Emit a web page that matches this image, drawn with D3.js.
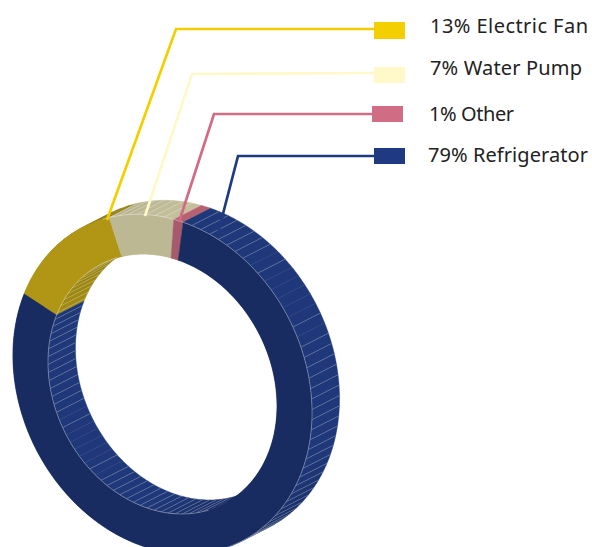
<!DOCTYPE html>
<html>
<head>
<meta charset="utf-8">
<style>
html,body{margin:0;padding:0;background:#fff;overflow:hidden}
svg{display:block}
text{font-family:"Noto Sans",sans-serif;font-size:20px;fill:#222}
</style>
<script src="https://cdnjs.cloudflare.com/ajax/libs/d3/7.8.5/d3.min.js"></script>
</head>
<body>
<svg id="chart" width="592" height="547"></svg>
<script>
// Appliance share of household energy use
const categories = ["Electric Fan", "Water Pump", "Other", "Refrigerator"];
const shares = [13, 7, 1, 79];
const legendColors = ["#f4cf00", "#fff8c8", "#d06c84", "#1f3a80"];
const faceColors = ["#b09614", "#bcb894", "#a65a6c", "#182c62"];
const wallBright = ["#a58e14", "#c8c4a0", "#b9606f", "#1e3879"];
const wallDim = ["#8f7a10", "#b0ac88", "#a65a6c", "#182c62"];

// Legend layout: row swatch corner, text origin, text width and leader elbow
const swatchX = [374, 374, 372, 374];
const swatchY = [22, 67, 106, 148];
const swatchH = [17, 16, 16, 16];
const textX = [430, 430, 429, 428];
const textY = [33, 75, 120.5, 162];
const textW = [158, 152, 85, 160];
const leaders = [
  [[107, 220], [176, 29], [374, 29]],
  [[145, 216], [192, 74], [374, 73]],
  [[179, 222], [214, 114], [372, 114]],
  [[218, 233], [238, 156], [374, 156]]
];

// Ring geometry: an oblique circle, extruded along the minor axis
const center = [162.5, 384];
const axisA = [0.4466 * 134.7, 0.8947 * 134.7];
const axisB = [0.8947 * 108.9, -0.4466 * 108.9];
const extrude = [27.5, -14];
const rInner = 1, rOuter = 1.306;
const startDeg = -36;
const rad = Math.PI / 180;

const project = (deg, r, d) => {
  const c = Math.cos(deg * rad), s = Math.sin(deg * rad);
  return [
    center[0] + r * (-c * axisA[0] + s * axisB[0]) + d * extrude[0],
    center[1] + r * (-c * axisA[1] + s * axisB[1]) + d * extrude[1]
  ];
};
const arcPts = (a, b, r, d) => {
  const n = Math.max(2, Math.ceil(Math.abs(b - a)) + 1);
  return d3.range(n).map(i => project(a + (b - a) * i / (n - 1), r, d));
};
const line = d3.line().curve(d3.curveLinear);

const slices = d3.pie().sort(null)
  .startAngle(startDeg * rad)
  .endAngle((startDeg + 360) * rad)(shares)
  .map((p, i) => ({ i, a: p.startAngle / rad, b: p.endAngle / rad }));

const svg = d3.select("#chart");
const walls = svg.append("g");
const hatch = svg.append("g");
const faces = svg.append("g");
const edges = svg.append("g");
const leaderG = svg.append("g");
const legend = svg.append("g");

// Walls are split into facets, shaded by how squarely they face the viewer
const facet = 360 / 102;
const phase = 71.2;
slices.forEach(s => {
  const bright = d3.interpolateRgb(wallDim[s.i], wallBright[s.i]);
  [rOuter, rInner].forEach(r => {
    let a = s.a;
    while (a < s.b - 1e-6) {
      const next = Math.min(s.b, (Math.floor((a - phase) / facet + 1e-6) + 1) * facet + phase);
      const poly = arcPts(a, next, r, 0).concat(arcPts(next, a, r, 1));
      const col = bright(Math.min(1, Math.abs(Math.sin((a + next) / 2 * rad)) * 1.5));
      walls.append("path").attr("d", line(poly) + "Z")
        .attr("fill", col).attr("stroke", col).attr("stroke-width", 0.4);
      a = next;
    }
  });
});

// Facet seams; a run of seams around the axis of extrusion is not drawn
const hiddenSeams = new Set([-1, 1, 2, 3, 4, 5, 7]);
d3.range(0, 102).forEach(k => {
  const deg = (phase + k * facet) % 360;
  const halfTurn = ((k + 25) % 51) - 25;
  if (hiddenSeams.has(halfTurn)) return;
  if (slices[2].a <= deg && deg <= slices[2].b) return;
  const r = deg >= 8.3 && deg <= 188 ? rOuter : rInner;
  hatch.append("path")
    .attr("d", line([project(deg, r, 0), project(deg, r, 1)]))
    .attr("fill", "none")
    .attr("stroke", "rgba(255,255,255,0.27)")
    .attr("stroke-width", 0.8);
});

// Front faces of the ring
slices.forEach(s => {
  const poly = arcPts(s.a, s.b, rOuter, 0).concat(arcPts(s.b, s.a, rInner, 0));
  faces.append("path").attr("d", line(poly) + "Z")
    .attr("fill", faceColors[s.i]).attr("stroke", faceColors[s.i]).attr("stroke-width", 0.4);
});

// Light rim where the front face meets a visible wall
[[rOuter, 8.3, 188], [rInner, 188, 368.3]].forEach(([r, a, b]) => {
  edges.append("path").attr("d", line(arcPts(a, b, r, 0)))
    .attr("fill", "none")
    .attr("stroke", "rgba(255,255,255,0.38)")
    .attr("stroke-width", 0.9);
});

// Leaders and legend
categories.forEach((name, i) => {
  leaderG.append("path").attr("d", line(leaders[i]))
    .attr("fill", "none").attr("stroke", legendColors[i])
    .attr("stroke-width", 2.7).attr("stroke-linejoin", "miter");
  legend.append("rect")
    .attr("x", swatchX[i]).attr("y", swatchY[i])
    .attr("width", 31).attr("height", swatchH[i])
    .attr("fill", legendColors[i]);
  legend.append("text")
    .attr("x", textX[i]).attr("y", textY[i])
    .attr("textLength", textW[i]).attr("lengthAdjust", "spacing")
    .text(`${shares[i]}% ${name}`);
});
</script>
</body>
</html>
